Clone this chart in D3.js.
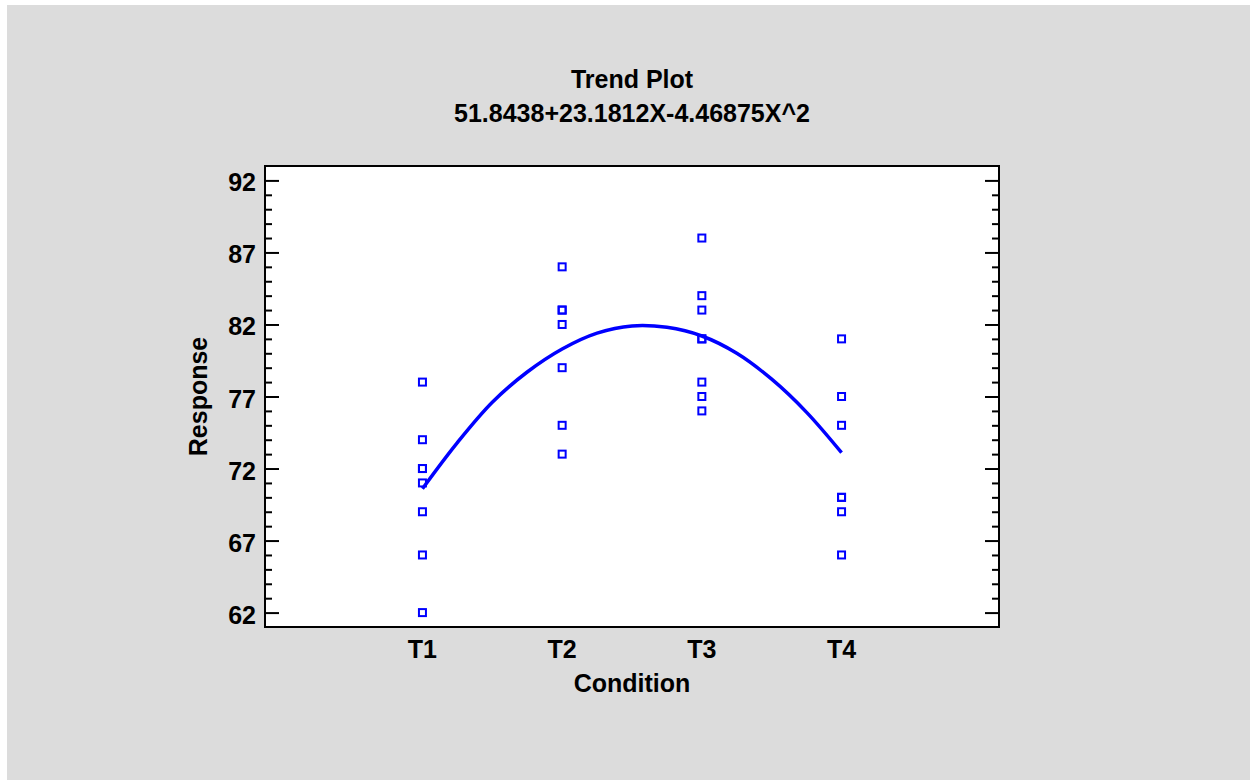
<!DOCTYPE html>
<html>
    <head>
        <title>Trend Plot</title>
        <script src="https://d3js.org/d3.v7.min.js"></script>
        <style>
            body { margin: 0; background: white; }
            text { font-family: "Liberation Sans", Arial, sans-serif; font-weight: bold; fill: black; }
        </style>
    </head>
    <body>
        <svg id="trend" width="1250" height="780"></svg>

        <script>
        // conditions on the x axis
        var conditions = ["T1", "T2", "T3", "T4"];

        // observed responses per condition
        var t1Values = [78, 74, 72, 72, 71, 69, 66, 62];
        var t2Values = [86, 83, 83, 82, 79, 75, 73];
        var t3Values = [88, 84, 83, 81, 81, 78, 77, 76];
        var t4Values = [81, 77, 75, 70, 70, 69, 66];

        // fitted trend line at quarter steps from T1 to T4
        var trendX = [1, 1.25, 1.5, 1.75, 2, 2.25, 2.5, 2.75, 3, 3.25, 3.5, 3.75, 4];
        var trendY = [70.6, 73.8, 76.6, 78.7, 80.3, 81.4, 81.9, 81.8, 81.2, 80.0, 78.2, 75.9, 73.1];

        var yMajorTicks = [62, 67, 72, 77, 82, 87, 92];

        var title = "Trend Plot";
        var subtitle = "51.8438+23.1812X-4.46875X^2";

        var svg = d3.select("#trend");

        //gray panel
        svg.append("rect")
            .attr("x", 7).attr("y", 5)
            .attr("width", 1243).attr("height", 775)
            .attr("fill", "#dcdcdc");

        var plotLeft = 265, plotRight = 999, plotTop = 166, plotBottom = 627;
        var fontSize = "25px";

        var x = d3.scaleLinear()
            .domain([1 - 1.127, conditions.length + 1.127])
            .range([plotLeft, plotRight]);
        var y = d3.scaleLinear()
            .domain([61, 93])
            .range([plotBottom, plotTop]);

        //plot area
        svg.append("rect")
            .attr("x", plotLeft).attr("y", plotTop)
            .attr("width", plotRight - plotLeft).attr("height", plotBottom - plotTop)
            .attr("fill", "white");

        //minor + major ticks, inside on both sides
        var minorTicks = d3.range(62, 93).filter(function(v) { return yMajorTicks.indexOf(v) < 0; });

        var leftMajor = d3.axisRight(y).tickValues(yMajorTicks).tickSize(14).tickFormat("");
        var leftMinor = d3.axisRight(y).tickValues(minorTicks).tickSize(7).tickFormat("");
        var rightMajor = d3.axisLeft(y).tickValues(yMajorTicks).tickSize(14).tickFormat("");
        var rightMinor = d3.axisLeft(y).tickValues(minorTicks).tickSize(7).tickFormat("");

        [[leftMajor, plotLeft], [leftMinor, plotLeft], [rightMajor, plotRight], [rightMinor, plotRight]].forEach(function(a) {
            var g = svg.append("g").attr("transform", "translate(" + a[1] + ",0)").call(a[0]);
            g.select(".domain").remove();
            g.selectAll("line").attr("stroke", "black").attr("stroke-width", 2);
        });

        //y tick labels
        svg.selectAll(".ylab")
            .data(yMajorTicks)
            .enter().append("text")
            .attr("class", "ylab")
            .attr("x", 256)
            .attr("y", function(d) { return y(d) + 11; })
            .attr("text-anchor", "end")
            .style("font-size", fontSize)
            .text(function(d) { return d; });

        //x tick labels
        svg.selectAll(".xlab")
            .data(conditions)
            .enter().append("text")
            .attr("class", "xlab")
            .attr("x", function(d, i) { return x(i + 1); })
            .attr("y", 658)
            .attr("text-anchor", "middle")
            .style("font-size", fontSize)
            .text(function(d) { return d; });

        //frame
        svg.append("rect")
            .attr("x", plotLeft).attr("y", plotTop)
            .attr("width", plotRight - plotLeft).attr("height", plotBottom - plotTop)
            .attr("fill", "none")
            .attr("stroke", "black")
            .attr("stroke-width", 2);

        //trend curve
        var line = d3.line()
            .x(function(d) { return x(d[0]); })
            .y(function(d) { return y(d[1]); })
            .curve(d3.curveCatmullRom);

        svg.append("path")
            .datum(d3.zip(trendX, trendY))
            .attr("d", line)
            .attr("fill", "none")
            .attr("stroke", "#0000ff")
            .attr("stroke-width", 3.5);

        //observations
        var points = [];
        [t1Values, t2Values, t3Values, t4Values].forEach(function(vals, i) {
            vals.forEach(function(v) { points.push({ cond: i + 1, value: v }); });
        });

        svg.selectAll(".obs")
            .data(points)
            .enter().append("rect")
            .attr("class", "obs")
            .attr("x", function(d) { return x(d.cond) - 3.5; })
            .attr("y", function(d) { return y(d.value) - 3.5; })
            .attr("width", 7)
            .attr("height", 7)
            .attr("fill", "none")
            .attr("stroke", "#0000ff")
            .attr("stroke-width", 2);

        //titles
        var midX = (plotLeft + plotRight) / 2;
        svg.append("text")
            .attr("x", midX).attr("y", 88)
            .attr("text-anchor", "middle")
            .style("font-size", fontSize)
            .text(title);
        svg.append("text")
            .attr("x", midX).attr("y", 122)
            .attr("text-anchor", "middle")
            .style("font-size", fontSize)
            .text(subtitle);

        svg.append("text")
            .attr("x", midX).attr("y", 692)
            .attr("text-anchor", "middle")
            .style("font-size", fontSize)
            .text("Condition");

        svg.append("text")
            .attr("transform", "translate(207," + ((plotTop + plotBottom) / 2) + ") rotate(-90)")
            .attr("text-anchor", "middle")
            .style("font-size", fontSize)
            .text("Response");
        </script>
    </body>
</html>
